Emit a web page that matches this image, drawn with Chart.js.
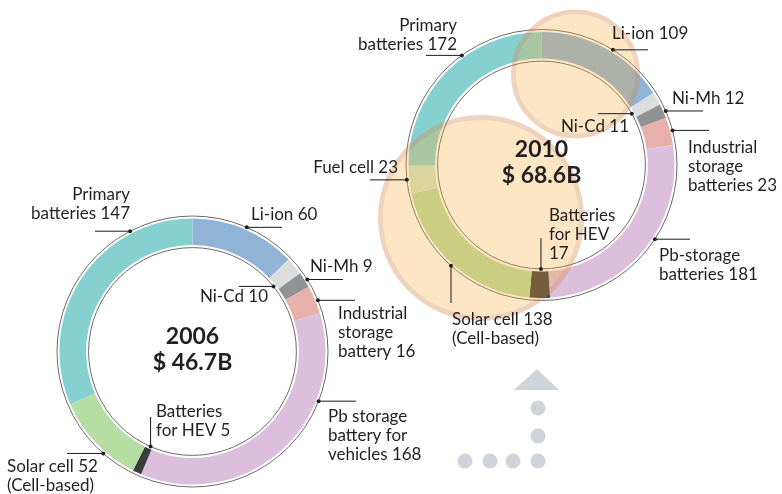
<!DOCTYPE html>
<html>
<head>
<meta charset="utf-8">
<script src="https://cdn.jsdelivr.net/npm/chart.js@4.4.0/dist/chart.umd.min.js"></script>
<style>
  html, body { margin: 0; padding: 0; background: #fff; }
  #wrap { position: relative; width: 782px; height: 494px; overflow: hidden; }
  canvas { position: absolute; left: 0; top: 0; }
</style>
</head>
<body>
<div id="wrap">
  <canvas id="chart2006" width="782" height="494"></canvas>
  <canvas id="chart2010" width="782" height="494"></canvas>
</div>
<script>
// ---- data (hundred million $) ----
var categories2006 = ['Li-ion', 'Ni-Cd', 'Ni-Mh', 'Industrial storage battery', 'Pb storage battery for vehicles', 'Batteries for HEV', 'Solar cell (Cell-based)', 'Primary batteries'];
var values2006 = [60, 10, 9, 16, 168, 5, 52, 147];
var labels2006 = [['Li-ion {v}'], ['Ni-Cd {v}'], ['Ni-Mh {v}'], ['Industrial', 'storage', 'battery {v}'], ['Pb storage', 'battery for', 'vehicles {v}'], ['Batteries', 'for HEV {v}'], ['Solar cell {v}', '(Cell-based)'], ['Primary', 'batteries {v}']];

var categories2010 = ['Li-ion', 'Ni-Cd', 'Ni-Mh', 'Industrial storage batteries', 'Pb-storage batteries', 'Batteries for HEV', 'Solar cell (Cell-based)', 'Fuel cell', 'Primary batteries'];
var values2010 = [109, 11, 12, 23, 181, 17, 138, 23, 172];
var labels2010 = [['Li-ion {v}'], ['Ni-Cd {v}'], ['Ni-Mh {v}'], ['Industrial', 'storage', 'batteries {v}'], ['Pb-storage', 'batteries {v}'], ['Batteries', 'for HEV', '{v}'], ['Solar cell {v}', '(Cell-based)'], ['Fuel cell {v}'], ['Primary', 'batteries {v}']];

// ---- styling ----
var colors2006 = ['#8fb4d6', '#dcddde', '#909294', '#e8b0aa', '#dcbfdd', '#3c3c3c', '#b6dda2', '#86d1cf'];
var colors2010 = ['#8fb4d6', '#dcddde', '#909294', '#e8b0aa', '#dcbfdd', '#3c3c3c', '#b6dda2', '#cfe6c8', '#86d1cf'];
var R = 133;
var FONT = 'Lato, "Open Sans", sans-serif';
var TEXT = '#231f20';

// label placement: angle (deg, clockwise from top), ring side, leader end, text anchor
var layout2006 = [
  { a: 23.6, ring: 'out', toX: 282, tx: 251, ty: 215, align: 'left' },
  { a: 51.2, ring: 'in', toX: 239, tx: 268, ty: 297, align: 'right' },
  { a: 57.9, ring: 'out', toX: 343, tx: 310, ty: 267, align: 'left' },
  { a: 67.8, ring: 'out', toX: 355, tx: 338, ty: 314, align: 'left' },
  { a: 111.5, ring: 'out', toX: 356, tx: 328, ty: 417, align: 'left' },
  { a: 203.8, ring: 'in', toY: 417, tx: 156, ty: 412, align: 'left' },
  { a: 221.2, ring: 'out', toX: 67, tx: 7, ty: 467, align: 'left' },
  { a: 332.6, ring: 'out', toX: 95, tx: 130, ty: 195, align: 'right' }
];
var layout2010 = [
  { a: 31.8, ring: 'out', toX: 648, tx: 612, ty: 34, align: 'left' },
  { a: 60.4, ring: 'in', toX: 598, tx: 629, ty: 127, align: 'right' },
  { a: 66.5, ring: 'out', toX: 703, tx: 672, ty: 99, align: 'left' },
  { a: 75.2, ring: 'out', toX: 709, tx: 688, ty: 148, align: 'left' },
  { a: 123.2, ring: 'out', toX: 690, tx: 659, ty: 256, align: 'left' },
  { a: 180.3, ring: 'in', toY: 238, tx: 549, ty: 216, align: 'left' },
  { a: 221.9, ring: 'out', toY: 303, tx: 452, ty: 320, align: 'left' },
  { a: 263.7, ring: 'out', toX: 370, tx: 398, ty: 168, align: 'right' },
  { a: 324, ring: 'out', toX: 426, tx: 457, ty: 26, align: 'right' }
];

function polar(cx, cy, r, deg) {
  var t = deg * Math.PI / 180;
  return { x: cx + r * Math.sin(t), y: cy - r * Math.cos(t) };
}

function makeDecor(year, values, labels, layout, extras) {
  var total = values.reduce(function(s, v) { return s + v; }, 0);
  return {
    id: 'decor' + year,
    afterDatasetsDraw: function(chart) {
      var ctx = chart.ctx;
      var arc = chart.getDatasetMeta(0).data[0];
      ctx.save();
      ctx.strokeStyle = '#6a6a6a';
      ctx.lineWidth = 1;
      [arc.outerRadius + 2.5, arc.innerRadius - 2.5].forEach(function(r) {
        ctx.beginPath();
        ctx.arc(arc.x, arc.y, r, 0, Math.PI * 2);
        ctx.stroke();
      });
      if (extras) extras(ctx, arc);
      ctx.restore();
    },
    afterDraw: function(chart) {
      var ctx = chart.ctx;
      var arc = chart.getDatasetMeta(0).data[0];
      ctx.save();
      ctx.fillStyle = TEXT;
      ctx.strokeStyle = '#1a1a1a';
      ctx.lineWidth = 1;
      layout.forEach(function(l, i) {
        var r = l.ring === 'out' ? arc.outerRadius + 2.5 : arc.innerRadius - 2.5;
        var p = polar(arc.x, arc.y, r, l.a);
        ctx.beginPath();
        ctx.moveTo(p.x, p.y);
        if (l.toX !== undefined) ctx.lineTo(l.toX, p.y);
        else ctx.lineTo(p.x, l.toY);
        ctx.stroke();
        ctx.beginPath();
        ctx.arc(p.x, p.y, 2, 0, Math.PI * 2);
        ctx.fill();
        ctx.font = '17px ' + FONT;
        ctx.textAlign = l.align;
        ctx.textBaseline = 'middle';
        labels[i].forEach(function(line, k) {
          ctx.fillText(line.replace('{v}', values[i]), l.tx, l.ty + k * 18.7);
        });
      });
      ctx.font = 'bold 23px ' + FONT;
      ctx.textAlign = 'center';
      ctx.fillText(year, arc.x, arc.y - 15);
      ctx.fillText('$ ' + (total / 10).toFixed(1) + 'B', arc.x, arc.y + 11);
      ctx.restore();
    }
  };
}

// translucent highlight circles and arrow on the 2010 ring
function overlays(ctx, arc) {
  [{ dx: -60.5, dy: 53, r: 103 }, { dx: 34, dy: -91, r: 64.5 }].forEach(function(c) {
    ctx.beginPath();
    ctx.arc(arc.x + c.dx, arc.y + c.dy, c.r - 5, 0, Math.PI * 2);
    ctx.fillStyle = 'rgba(248,172,58,0.3)';
    ctx.fill();
    ctx.beginPath();
    ctx.arc(arc.x + c.dx, arc.y + c.dy, c.r - 2.5, 0, Math.PI * 2);
    ctx.lineWidth = 5;
    ctx.strokeStyle = 'rgba(215,140,80,0.38)';
    ctx.stroke();
  });
  ctx.fillStyle = '#ced4da';
  [[465, 461], [490, 461], [513, 461], [538, 461], [538, 436], [538, 408]].forEach(function(d) {
    ctx.beginPath();
    ctx.arc(d[0], d[1], 7.5, 0, Math.PI * 2);
    ctx.fill();
  });
  ctx.beginPath();
  ctx.moveTo(537, 369);
  ctx.lineTo(559, 390);
  ctx.lineTo(514, 390);
  ctx.closePath();
  ctx.fill();
}

function makeChart(id, cats, values, colors, cx, cy, decor) {
  return new Chart(document.getElementById(id), {
    type: 'doughnut',
    data: {
      labels: cats,
      datasets: [{ data: values, backgroundColor: colors, borderWidth: 0, hoverOffset: 0 }]
    },
    options: {
      responsive: false,
      animation: false,
      events: [],
      cutout: '80%',
      layout: { padding: { left: cx - R, top: cy - R, right: 782 - cx - R, bottom: 494 - cy - R } },
      plugins: { legend: { display: false }, tooltip: { enabled: false } }
    },
    plugins: [decor]
  });
}

makeChart('chart2006', categories2006, values2006, colors2006, 192.5, 351.5,
  makeDecor('2006', values2006, labels2006, layout2006, null));
makeChart('chart2010', categories2010, values2010, colors2010, 541.5, 165,
  makeDecor('2010', values2010, labels2010, layout2010, overlays));
</script>
</body>
</html>
